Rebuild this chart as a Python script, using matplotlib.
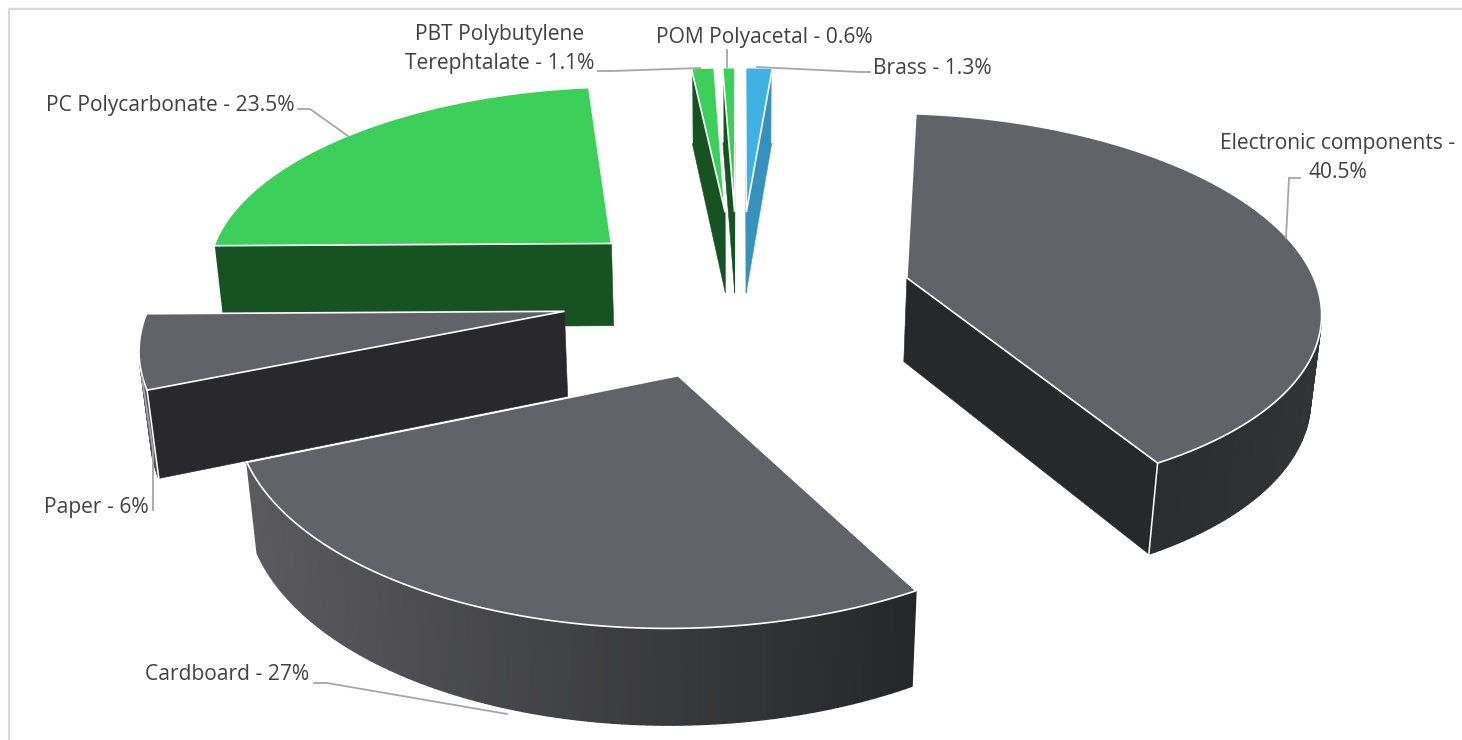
import numpy as np
import matplotlib
matplotlib.use("Agg")
import matplotlib.pyplot as plt
from matplotlib.patches import Polygon

categories = ["Brass", "Electronic components", "Cardboard", "Paper",
              "PC Polycarbonate", "PBT Polybutylene Terephtalate", "POM Polyacetal"]
values = [1.3, 40.5, 27, 6, 23.5, 1.1, 0.6]

# styling per slice
top_colors = ["#3fb1e5", "#626368", "#626368", "#626368", "#3ccf5a", "#3ccf5a", "#3ccf5a"]
wall_colors = ["#3791bd", "#27282a", "#27282a", "#28282d", "#175223", "#175223", "#175223"]
rim_left = ["#3791bd", "#2b2c2e", "#5a5a5f", "#55555a", "#175223", "#175223", "#175223"]
rim_right = ["#3791bd", "#323335", "#262729", "#55555a", "#175223", "#175223", "#175223"]
nudge_x = [1, 2, 0, -2, -2, 0, 0]
explode = [0.46, 0.42, 0.42, 0.42, 0.42, 0.46, 0.46]
radius = [0.96, 1, 1, 1, 1, 0.96, 0.96]
draw_order = [4, 5, 6, 0, 3, 2, 1]

# camera of the 3-D pie
CX, CY = 738.0, 295.0
A, B, D = 412.0, 192.0, 86.0
K, M = 0.14, 0.019


def project(u, v, z, dx=0.0):
    w = 1 + K * v + M * z
    return CX + dx + A * u / w, CY + (-B * v + D * z) / w


def signed_area(pts):
    a = np.asarray(pts)
    b = np.roll(a, -1, axis=0)
    return float(np.sum(a[:, 0] * b[:, 1] - b[:, 0] * a[:, 1]))


def mix(c1, c2, t):
    r1, r2 = np.array(matplotlib.colors.to_rgb(c1)), np.array(matplotlib.colors.to_rgb(c2))
    return tuple(r1 + (r2 - r1) * min(max(t, 0), 1))


fig = plt.figure(figsize=(14.62, 7.40), dpi=100)
ax = fig.add_axes([0, 0, 1, 1])
ax.set_xlim(0, 1462)
ax.set_ylim(740, 0)
ax.axis("off")

# chart frame: only top and left edges are visible
ax.plot([9, 9, 1462], [740, 9, 9], color="#d9d9d9", lw=1.6, zorder=1)

fractions = np.cumsum([0] + values) / float(sum(values))
z = 10
for i in draw_order:
    a0, a1 = 2 * np.pi * fractions[i], 2 * np.pi * fractions[i + 1]
    mid = (a0 + a1) / 2
    ax0, ay0 = explode[i] * np.sin(mid), explode[i] * np.cos(mid)
    dx = nudge_x[i]
    n = max(6, int((a1 - a0) * 60))
    ang = np.linspace(a0, a1, n)
    rim_u, rim_v = ax0 + radius[i] * np.sin(ang), ay0 + radius[i] * np.cos(ang)
    top = [project(u, v, 0, dx) for u, v in zip(rim_u, rim_v)]
    bot = [project(u, v, 1, dx) for u, v in zip(rim_u, rim_v)]
    apex_t, apex_b = project(ax0, ay0, 0, dx), project(ax0, ay0, 1, dx)

    # radial walls
    end_wall = [apex_t, top[-1], bot[-1], apex_b]
    start_wall = [top[0], apex_t, apex_b, bot[0]]
    for wall in (start_wall, end_wall):
        if signed_area(wall) > 0:
            ax.add_patch(Polygon(wall, closed=True, fc=wall_colors[i], ec=wall_colors[i],
                                 lw=0.4, zorder=z))
            z += 1
    # rim, strip by strip with a horizontal gradient
    for j in range(n - 1):
        quad = [top[j + 1], top[j], bot[j], bot[j + 1]]
        if signed_area(quad) > 0:
            t = (top[j][0] - 250) / (916 - 250) if i == 2 else (top[j][0] - 1150) / 170
            col = mix(rim_left[i], rim_right[i], t)
            ax.add_patch(Polygon(quad, closed=True, fc=col, ec=col, lw=1.0, zorder=z))
            z += 1
    # white corner seams
    if signed_area(end_wall) > 0:
        ax.plot([top[-1][0], bot[-1][0]], [top[-1][1], bot[-1][1]], color="white", lw=1.1, zorder=z)
    if signed_area(start_wall) > 0:
        ax.plot([top[0][0], bot[0][0]], [top[0][1], bot[0][1]], color="white", lw=1.1, zorder=z)
    z += 1
    # top face
    poly = [apex_t] + top
    ax.add_patch(Polygon(poly, closed=True, fc=top_colors[i], ec="white", lw=1.2,
                         joinstyle="bevel", zorder=z))
    z += 1

# leader lines
leaders = [
    ([757, 860, 870], [67, 72, 72]),
    ([1300, 1289, 1286], [178, 178, 238]),
    ([314, 327, 507], [683, 683, 714]),
    ([153, 153, 142], [510, 450, 378]),
    ([298, 310, 348], [109, 109, 136]),
    ([598, 612, 700], [71, 71, 68]),
    ([727, 727], [50, 67]),
]
for lx, ly in leaders:
    ax.plot(lx, ly, color="#a6a6a6", lw=1.3, zorder=z + 1, solid_joinstyle="miter")

# labels
label_text = [f"{c} - {v}%" for c, v in zip(categories, values)]
label_text[1] = f"{categories[1]} -\n{values[1]}%"
label_text[5] = "PBT Polybutylene\nTerephtalate - " + f"{values[5]}%"
anchors = [(992, 68, "right", "left"), (1338, 158, "center", "center"),
           (309, 675, "right", "left"), (149, 507, "right", "left"),
           (294, 105, "right", "left"), (594, 49, "right", "center"),
           (873, 38, "right", "left")]
for s, (x, y, ha, ma) in zip(label_text, anchors):
    ax.text(x, y, s, ha=ha, va="center", ma=ma, family="Open Sans", fontsize=15.1,
            color="#404040", linespacing=1.5, zorder=z + 2)

fig.savefig("out.png", dpi=100, facecolor="white")
